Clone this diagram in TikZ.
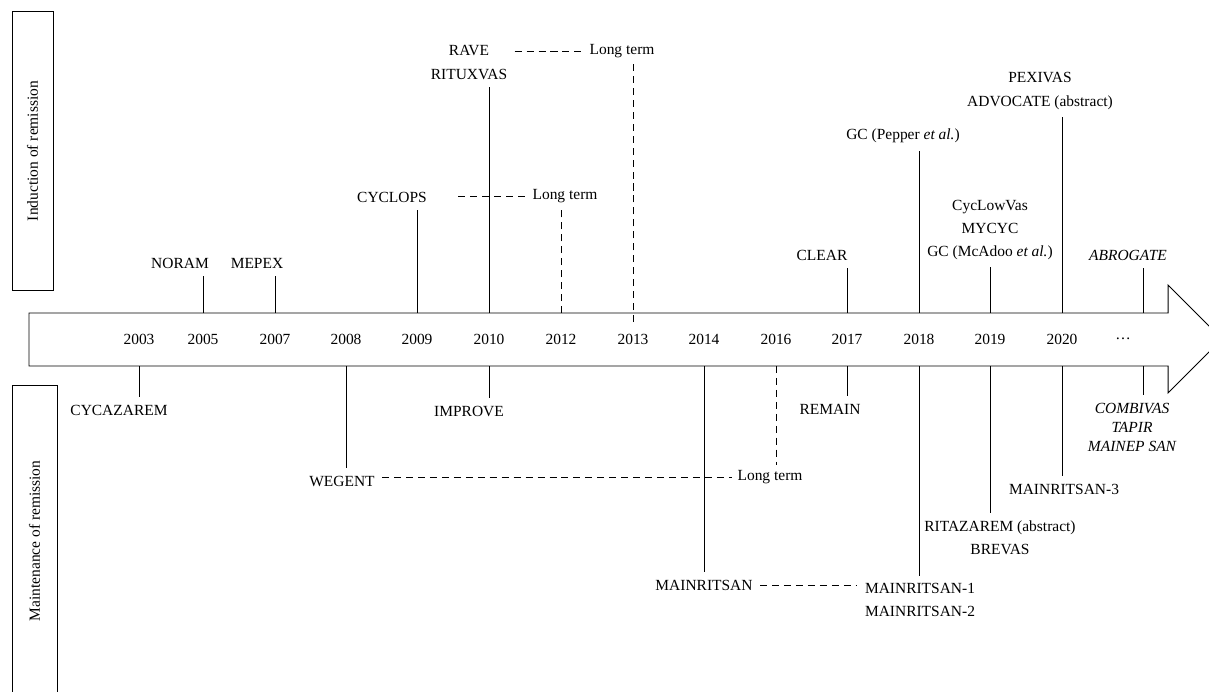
\documentclass[tikz,border=0pt]{standalone}
\usepackage{fontspec}
\setmainfont{Liberation Serif}
\begin{document}
\begin{tikzpicture}[x = 0.025cm, y = -0.025cm, line width = 0.7pt, font = \fontsize{11}{16.5}\selectfont,
        trial/.style = {align = center, inner sep = 5pt},
        future/.style = {align = center, inner sep = 5pt, font = \fontsize{11}{13.5}\selectfont\itshape},
        side/.style = {draw = black, rotate = 90},
        longterm/.style = {dash pattern = on 5pt off 3.5pt}]
    \useasboundingbox (0, 0) rectangle (1209, 691);

    \node[side, minimum width = 6.95cm, minimum height = 1.025cm] (ind) at (32.5, 151) {Induction of remission};
    \node[side, minimum width = 7.75cm, minimum height = 1.125cm] (main) at (34.5, 541) {Maintenance of remission};

    \draw (29, 313) -- (1168, 313) -- (1168, 285) -- (1222, 339) -- (1168, 393) -- (1168, 366) -- (29, 366) -- cycle;

    \foreach \yr/\x in {2003/139, 2005/203, 2007/275, 2008/346, 2009/417, 2010/489, 2012/561,
            2013/633, 2014/704, 2016/776, 2017/847, 2018/919, 2019/990, 2020/1062} {
        \node[] (y\yr) at (\x, 339) {\yr};
        \coordinate (t\yr) at (\x, 313);
        \coordinate (b\yr) at (\x, 366);
    }
    \node[] (ydots) at (1123, 339) {\dots};
    \coordinate (tnext) at (1143, 313);
    \coordinate (bnext) at (1143, 366);

    \node[trial] (noram) at (180, 263) {NORAM};
    \node[trial] (mepex) at (257, 263) {MEPEX};
    \node[trial] (cyclops) at (392, 197) {CYCLOPS};
    \node[trial] (rave) at (469, 62.5) {RAVE \\ RITUXVAS};
    \node[trial] (clear) at (822, 255) {CLEAR};
    \node[trial] (gcpep) at (903, 136) {GC (Pepper \emph{et al.})};
    \node[trial] (mycyc) at (990, 230) {CycLowVas \\ MYCYC \\ GC (McAdoo \emph{et al.})};
    \node[trial] (pexivas) at (1040, 91) {PEXIVAS \\ ADVOCATE (abstract)};
    \node[future] (abrogate) at (1128, 255) {ABROGATE};
    \node[] (lterma) at (622, 51) {Long term};
    \node[] (ltermb) at (565, 196) {Long term};

    \node[trial] (cycaz) at (119, 410) {CYCAZAREM};
    \node[trial] (improve) at (469, 411) {IMPROVE};
    \node[trial] (wegent) at (342, 481) {WEGENT};
    \node[] (ltermc) at (770, 477) {Long term};
    \node[trial] (mainr) at (704, 585) {MAINRITSAN};
    \node[trial] (remain) at (830, 409) {REMAIN};
    \node[trial] (mainr12) at (920, 600) {MAINRITSAN-1 \\ MAINRITSAN-2};
    \node[trial] (ritaz) at (1000, 537.5) {RITAZAREM (abstract) \\ BREVAS};
    \node[trial] (mainr3) at (1064, 489) {MAINRITSAN-3};
    \node[future] (combivas) at (1132, 427) {COMBIVAS \\ TAPIR \\ MAINEP SAN};

    \draw (t2005) -- (t2005 |- noram.south);
    \draw (t2007) -- (t2007 |- mepex.south);
    \draw (t2009) -- (t2009 |- cyclops.south);
    \draw (t2010) -- (t2010 |- rave.south);
    \draw (t2017) -- (t2017 |- clear.south);
    \draw (t2018) -- (t2018 |- gcpep.south);
    \draw (t2019) -- (t2019 |- mycyc.south);
    \draw (t2020) -- (t2020 |- pexivas.south);
    \draw (tnext) -- (tnext |- abrogate.south);
    \draw[longterm] (t2012) -- (t2012 |- ltermb.south);
    \draw[longterm] ([yshift = -6.4pt]t2013) -- (t2013 |- lterma.south);
    \draw[longterm] (rave.east |- lterma) -- (lterma.west);
    \draw[longterm, shorten <= 17pt] (cyclops.east |- ltermb) -- (ltermb.west);

    \draw (b2003) -- (b2003 |- cycaz.north);
    \draw (b2010) -- (b2010 |- improve.north);
    \draw (b2008) -- (b2008 |- wegent.north);
    \draw (b2014) -- (b2014 |- mainr.north);
    \draw (b2017) -- (b2017 |- remain.north);
    \draw (b2018) -- (b2018 |- mainr12.north);
    \draw (b2019) -- (b2019 |- ritaz.north);
    \draw (b2020) -- (b2020 |- mainr3.north);
    \draw (bnext) -- (bnext |- combivas.north);
    \draw[longterm] (b2016) -- (b2016 |- ltermc.north);
    \draw[longterm] (wegent.east |- ltermc) -- (ltermc.west);
    \draw[longterm] (mainr.east) -- (mainr.east -| mainr12.west);
\end{tikzpicture}
\end{document}
